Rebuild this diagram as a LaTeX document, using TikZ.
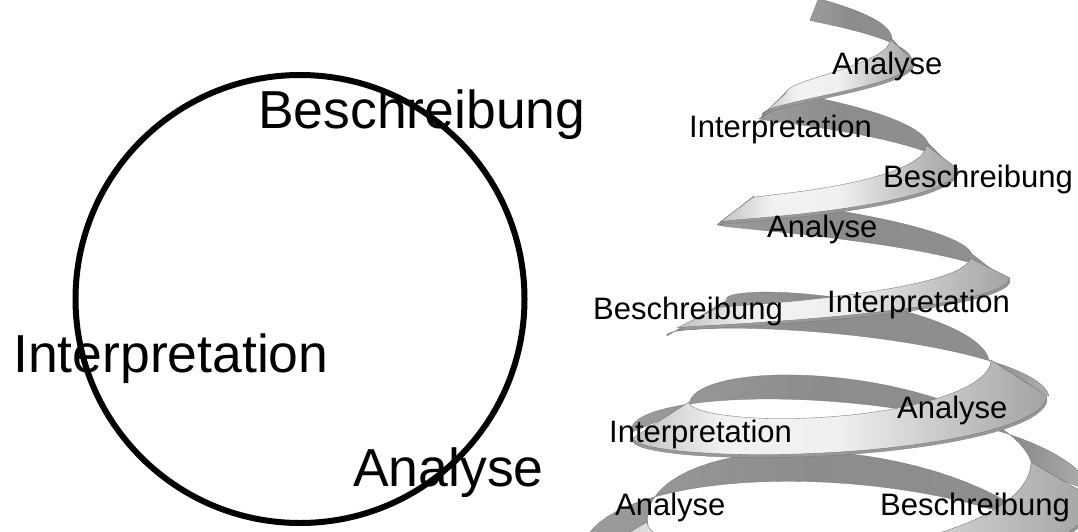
\documentclass[tikz,border=0pt]{standalone}
\usepackage{fontspec}
\setmainfont{Liberation Sans}
\pgfdeclarehorizontalshading{frontshade}{100bp}{color(0bp)=(gray!48); color(25bp)=(gray!48); color(36bp)=(gray!10); color(50bp)=(gray!12); color(62bp)=(gray!42); color(75bp)=(gray!72); color(100bp)=(gray!72)}
\pgfdeclarehorizontalshading{backshade}{100bp}{color(0bp)=(gray!78); color(25bp)=(gray!78); color(45bp)=(gray!90); color(68bp)=(gray!88); color(75bp)=(gray!62); color(100bp)=(gray!62)}
\tikzset{
	bigword/.style = { anchor=base west, inner sep=0pt, font=\fontsize{53.5}{60}\selectfont },
	smallword/.style = { anchor=base west, inner sep=0pt, font=\fontsize{31}{36}\selectfont },
	frontband/.style = { shade, shading=frontshade, draw=gray!80!black, line width=0.3pt },
	frontedge/.style = { fill=gray!80, draw=gray!90!black, line width=0.3pt, yshift=-3pt },
	backband/.style = { shade, shading=backshade, draw=gray!90!black, line width=0.3pt }
}
\newcommand\bandpath[9]{%
	plot[domain=#9:1, samples=40, variable=\u]
		({840+(#2+(#3-#2)*\u-#7/2)*cos(#1+180*\u)}, {#4+(#5-#4)*\u+#6*sin(180*\u)-#8/2})
	-- plot[domain=1:#9, samples=40, variable=\u]
		({840+(#2+(#3-#2)*\u+#7/2)*cos(#1+180*\u)}, {#4+(#5-#4)*\u+#6*sin(180*\u)+#8/2})
	-- cycle}
\begin{document}
\begin{tikzpicture}[x=1pt, y=-1pt]
	\useasboundingbox (0,0) rectangle (1078,531);
	\fill[white] (0,0) rectangle (1078,531);
	\draw[line width=6pt] (300,299) ellipse [x radius=224.5, y radius=224];
	\node[bigword] (beschreibung) at (258,128) {Beschreibung};
	\node[bigword] (interpretation) at (13,372) {Interpretation};
	\node[bigword] (analyse) at (353,486) {Analyse};
	\begin{scope}
		\clip (0,0) rectangle (1078,531);
		\foreach \ph/\ra/\rb/\ya/\yb/\aa/\wh/\wv/\us in {
			180/60/62/-2/50/-8/20/22/0.36,
			180/66/102/104/157/-13.5/28/28/0,
			180/104/150/210/268/-14/36/28/0,
			180/143/179/318/378/-32/60/36/0,
			180/179/222/420/480/-60/58/24/0,
			180/224/270/540/600/-102/64/30/0}
			\path[backband] \bandpath{\ph}{\ra}{\rb}{\ya}{\yb}{\aa}{\wh}{\wv}{\us};
		\foreach \ph/\ra/\rb/\ya/\yb/\aa/\wh/\wv/\us in {
			0/62/66/50/104/4/24/22/0,
			0/102/104/157/210/13.5/32/24/0,
			0/150/143/268/318/13/40/20/0,
			0/179/179/378/420/35/56/36/0,
			0/222/224/480/540/60/62/36/0}
		{
			\path[frontedge] \bandpath{\ph}{\ra}{\rb}{\ya}{\yb}{\aa}{\wh}{\wv}{\us};
			\path[frontband] \bandpath{\ph}{\ra}{\rb}{\ya}{\yb}{\aa}{\wh}{\wv}{\us};
		}
	\end{scope}
	\node[smallword] (analyse1) at (832,74) {Analyse};
	\node[smallword] (interpretation1) at (689,137) {Interpretation};
	\node[smallword] (beschreibung1) at (883,187) {Beschreibung};
	\node[smallword] (analyse2) at (767,237) {Analyse};
	\node[smallword] (beschreibung2) at (593,319) {Beschreibung};
	\node[smallword] (interpretation2) at (827,312) {Interpretation};
	\node[smallword] (analyse3) at (897,418) {Analyse};
	\node[smallword] (interpretation3) at (609,442) {Interpretation};
	\node[smallword] (analyse4) at (615,515) {Analyse};
	\node[smallword] (beschreibung3) at (880,515) {Beschreibung};
\end{tikzpicture}
\end{document}
